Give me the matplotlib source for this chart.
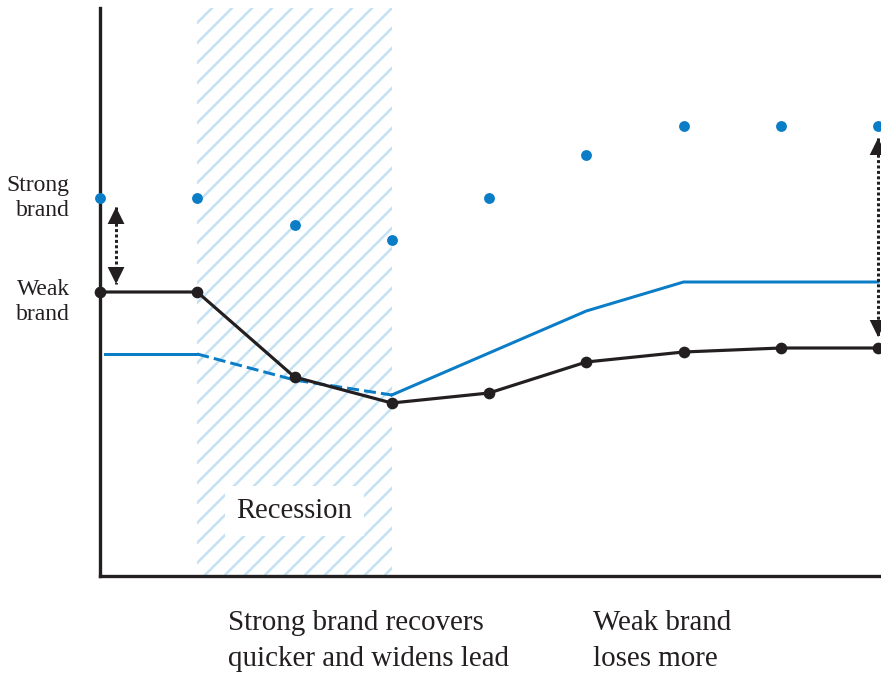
import matplotlib.pyplot as plt

plt.rcParams['font.family'] = ['Liberation Serif', 'DejaVu Serif']
plt.rcParams['hatch.linewidth'] = 1.5

# time steps (arbitrary units)
periods = [0, 1, 2, 3, 4, 5, 6, 7, 8]
strong_brand = [37.8, 37.8, 35.1, 33.6, 37.8, 42.1, 45.0, 45.0, 45.0]
weak_brand = [28.4, 28.4, 19.9, 17.3, 18.3, 21.4, 22.4, 22.8, 22.8]
reference_x = [0.05, 1, 2, 3, 4, 5, 6, 7, 8]
reference_line = [22.2, 22.2, 19.6, 18.1, 22.3, 26.5, 29.4, 29.4, 29.4]
recession = (1, 3)
gap_start = (0.165, 36.9, 29.2)
gap_end = (8.0, 43.8, 23.9)

blue = '#0a7dc6'
dark = '#231f20'
hatch_blue = '#c4e1f4'

fig = plt.figure(figsize=(881 / 120, 678 / 120), dpi=120)
ax = fig.add_axes([100 / 881, 102 / 678, 781 / 881, 568 / 678])

ax.axvspan(recession[0], recession[1], facecolor='white', edgecolor=hatch_blue,
           hatch='//', linewidth=0, zorder=0)

# reference line: solid before/after the recession, dashed during it
ax.plot(reference_x[:2], reference_line[:2], color=blue, lw=1.8, zorder=2)
ax.plot(reference_x[1:4], reference_line[1:4], color=blue, lw=1.8,
        linestyle=(0, (4, 1.7)), zorder=2)
ax.plot(reference_x[3:], reference_line[3:], color=blue, lw=1.8, zorder=2)

ax.plot(periods, weak_brand, color=dark, lw=1.9, marker='o', markersize=6,
        zorder=3, clip_on=False)
ax.plot(periods, strong_brand, linestyle='none', color=blue, marker='o',
        markersize=5.5, zorder=3, clip_on=False)

# double-headed dotted arrows showing the gap
for x, y1, y2 in [gap_start, gap_end]:
    ax.plot([x, x], [y1, y2], color=dark, lw=1.8, linestyle=(0, (1.0, 0.8)),
            zorder=4, clip_on=False)
    ax.annotate('', xy=(x, y1), xytext=(x, y2),
                arrowprops=dict(arrowstyle='<|-|>,head_length=0.85,head_width=0.42',
                                mutation_scale=12, facecolor=dark, edgecolor='none',
                                lw=0, shrinkA=0, shrinkB=0),
                annotation_clip=False, zorder=5)

ax.text(2, 6.5, 'Recession', fontsize=17.2, color=dark, ha='center', va='center',
        bbox=dict(facecolor='white', edgecolor='none', pad=7), zorder=5)

ax.text(-0.31, 37.75, 'Strong\nbrand', fontsize=14.2, color=dark, ha='right',
        va='center', linespacing=1.25)
ax.text(-0.31, 27.4, 'Weak\nbrand', fontsize=14.2, color=dark, ha='right',
        va='center', linespacing=1.25)
ax.text(1.316, -6.5, 'Strong brand recovers\nquicker and widens lead', fontsize=17.4,
        color=dark, ha='left', va='center', linespacing=1.45)
ax.text(5.07, -6.5, 'Weak brand\nloses more', fontsize=17.4,
        color=dark, ha='left', va='center', linespacing=1.45)

ax.set_xlim(0, 8.03)
ax.set_ylim(0, 56.8)
for side in ['top', 'right']:
    ax.spines[side].set_visible(False)
for side in ['left', 'bottom']:
    ax.spines[side].set_linewidth(2.0)
    ax.spines[side].set_color(dark)
ax.set_xticks([])
ax.set_yticks([])

fig.savefig('out.png', dpi=120)
